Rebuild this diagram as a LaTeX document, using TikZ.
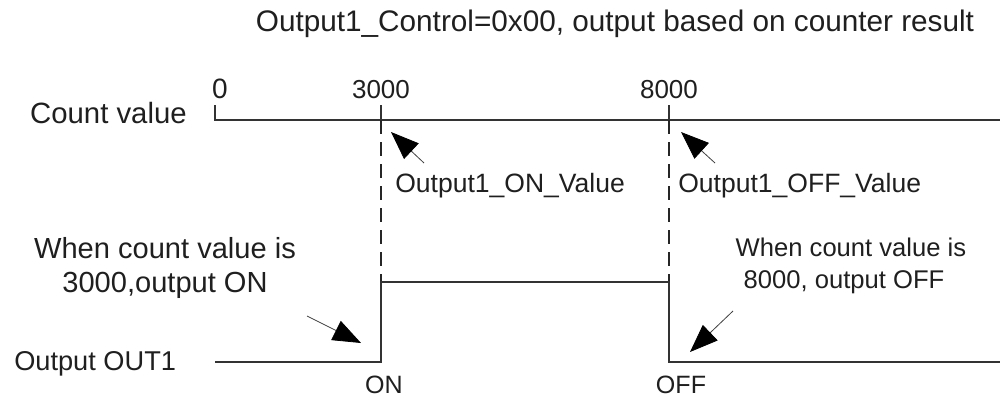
\documentclass[tikz,border=0pt]{standalone}
\usepackage{fontspec}
\setmainfont{Liberation Sans}
\usetikzlibrary{arrows.meta}
\newcommand\pxfont[1]{\fontsize{#1}{#1}\selectfont}
\begin{document}
\begin{tikzpicture}[x=0.75pt,y=-0.75pt,
  txt/.style={inner sep=0pt,anchor=base,text=black!88},
  axisline/.style={line width=1.1pt,black!80},
  dashline/.style={line width=1.2pt,black!85,dash pattern=on 10.5pt off 6pt},
  wave/.style={line width=1.1pt,black!80},
  ptr/.style={line width=0.6pt,black!75,-{Triangle[length=21pt,width=16pt,color=black]}},
]
\useasboundingbox (0,0) rectangle (1000,400);
% title
\node[txt,font=\pxfont{22.3}] (title) at (615,31) {Output1\_Control=0x00, output based on counter result};
% count axis
\node[txt,anchor=base east,font=\pxfont{22}] (cv) at (187,123) {Count value};
\node[txt,font=\pxfont{21}] (n0) at (220,98) {0};
\node[txt,font=\pxfont{19.5}] (n3000) at (381,98) {3000};
\node[txt,font=\pxfont{19.5}] (n8000) at (669,98) {8000};
\coordinate (a0) at (215,105);
\coordinate (a0b) at (215,120);
\coordinate (aend) at (1000,120);
\coordinate (t3top) at (381,105);
\coordinate (t3) at (381,120);
\coordinate (h3) at (381,282);
\coordinate (l3) at (381,362);
\coordinate (t8top) at (669,105);
\coordinate (t8) at (669,120);
\coordinate (h8) at (669,282);
\coordinate (l8) at (669,362);
\coordinate (ostart) at (215,362);
\coordinate (oend) at (1000,362);
\draw[axisline] (a0) -- (a0b) -- (aend);
\draw[axisline] (t3top) -- (t3);
\draw[axisline] (t8top) -- (t8);
\draw[dashline] (t3) -- (h3);
\draw[dashline] (t8) -- (h8);
% output waveform
\draw[wave] (ostart) -- (l3) -- (h3) -- (h8) -- (l8) -- (oend);
% value labels and pointers
\node[txt,anchor=base west,font=\pxfont{19.9}] (onv) at (395,192) {Output1\_ON\_Value};
\node[txt,anchor=base west,font=\pxfont{19.9}] (offv) at (678,192) {Output1\_OFF\_Value};
\coordinate (p3tail) at (424,163);
\coordinate (p3tip) at (391,132);
\coordinate (p8tail) at (715,163);
\coordinate (p8tip) at (681,132);
\draw[ptr] (p3tail) -- (p3tip);
\draw[ptr] (p8tail) -- (p8tip);
% explanations
\node[txt,font=\pxfont{21.8}] (w1) at (165,258) {When count value is};
\node[txt,font=\pxfont{21.8}] (w2) at (165,292) {3000,output ON};
\node[txt,font=\pxfont{19.2}] (w3) at (851,256) {When count value is};
\node[txt,font=\pxfont{19.2}] (w4) at (844,288) {8000, output OFF};
\coordinate (pontail) at (307,316);
\coordinate (pontip) at (361,343);
\coordinate (pofftail) at (733,311);
\coordinate (pofftip) at (690,352);
\draw[ptr] (pontail) -- (pontip);
\draw[ptr] (pofftail) -- (pofftip);
% output label and states
\node[txt,anchor=base west,font=\pxfont{20.4}] (out1) at (14,370) {Output OUT1};
\node[txt,font=\pxfont{18.8}] (on) at (384,393) {ON};
\node[txt,font=\pxfont{18.8}] (off) at (681,393) {OFF};
\end{tikzpicture}
\end{document}
